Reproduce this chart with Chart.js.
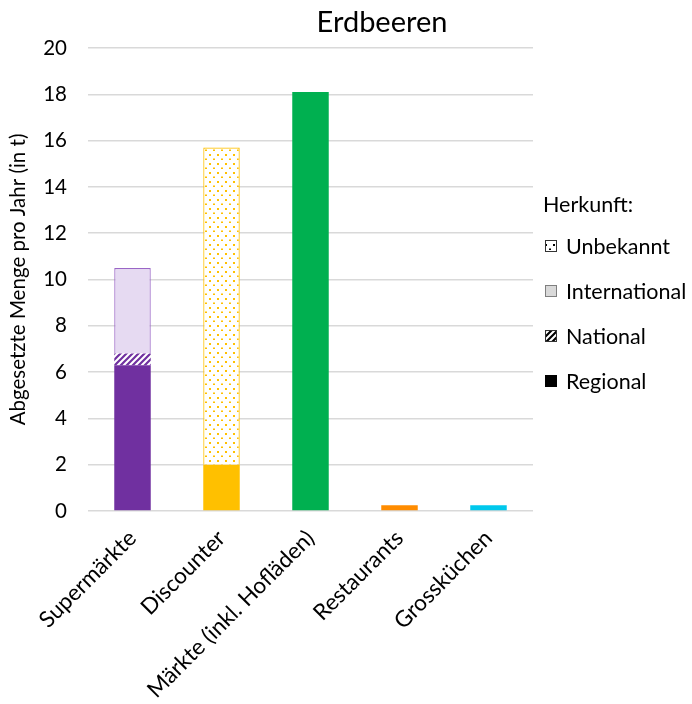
<!DOCTYPE html>
<html><head><meta charset="utf-8">
<script src="https://cdn.jsdelivr.net/npm/chart.js@4/dist/chart.umd.min.js"></script>
<style>html,body{margin:0;padding:0;background:#fff}#wrap{width:692px;height:704px}</style>
</head><body><div id="wrap"><canvas id="c" width="692" height="704"></canvas></div>
<script>
// ---- data ----
const categories = ['Supermärkte', 'Discounter', 'Märkte (inkl. Hofläden)', 'Restaurants', 'Grossküchen'];
const seriesNames = ['Regional', 'National', 'International', 'Unbekannt'];
const regional = [6.3, 2.0, 18.1, 0.25, 0.25];
const national = [0.5, null, null, null, null];
const international = [3.7, null, null, null, null];
const unbekannt = [null, 13.7, null, null, null];
const yMin = 0, yMax = 20, yStep = 2;
const chartTitle = 'Erdbeeren';
const yAxisTitle = 'Abgesetzte Menge pro Jahr (in t)';
const legendTitle = 'Herkunft:';

// ---- styles ----
const FONT = 'Lato, "Open Sans", sans-serif';
const baseColors = ['#7030A0', '#FFC000', '#00B050', '#FF8C00', '#00C8EC'];
const lightColors = ['#E6DAF2', '#FFF2CC', '#D5F2E0', '#FFE4CC', '#D0F4FB'];
const borderLight = ['#9A66C6', '#FFC000', '#00B050', '#FF8C00', '#00C8EC'];

function hatch(fg, bg) {
  const s = 6, c = document.createElement('canvas'); c.width = c.height = s;
  const x = c.getContext('2d');
  x.fillStyle = bg; x.fillRect(0, 0, s, s);
  x.strokeStyle = fg; x.lineWidth = 2.2; x.beginPath();
  for (let k = -1; k <= 1; k++) { x.moveTo(-1 + k * s, s + 1); x.lineTo(s + 1 + k * s, -1); }
  x.stroke();
  return x.createPattern(c, 'repeat');
}
function dots(fg, bg) {
  const w = 8, h = 9, c = document.createElement('canvas'); c.width = w; c.height = h;
  const x = c.getContext('2d');
  x.fillStyle = bg; x.fillRect(0, 0, w, h);
  x.fillStyle = fg;
  x.fillRect(1, 1, 2, 2);
  x.fillRect(5, 5.5, 2, 1.5);
  return x.createPattern(c, 'repeat');
}

const datasets = [
  { label: seriesNames[0], data: regional, backgroundColor: baseColors, borderColor: baseColors, borderWidth: 0 },
  { label: seriesNames[1], data: national, backgroundColor: baseColors.map(c => hatch(c, '#fff')), borderColor: baseColors, borderWidth: 0 },
  { label: seriesNames[2], data: international, backgroundColor: lightColors, borderColor: borderLight, borderWidth: 1.2 },
  { label: seriesNames[3], data: unbekannt, backgroundColor: baseColors.map(c => dots(c, '#fff')), borderColor: borderLight, borderWidth: 1.2 }
].map(d => Object.assign(d, { barPercentage: 0.41, categoryPercentage: 1.0, borderSkipped: 'start' }));

const legendFills = { Regional: '#000', National: hatch('#000', '#fff'), International: '#D9D9D9', Unbekannt: dots('#000', '#fff') };
const legendBorders = { Regional: '#000', National: '#333', International: '#7F7F7F', Unbekannt: '#333' };

const titlePlugin = {
  id: 'customTitle',
  afterDraw(chart) {
    const ctx = chart.ctx; ctx.save();
    ctx.font = '29px ' + FONT; ctx.fillStyle = '#000';
    ctx.textAlign = 'center'; ctx.textBaseline = 'alphabetic';
    ctx.fillText(chartTitle, 382, 32);
    ctx.restore();
  }
};
const legendPlugin = {
  id: 'customLegend',
  afterDraw(chart) {
    const ctx = chart.ctx; ctx.save();
    ctx.font = '21.5px ' + FONT; ctx.fillStyle = '#000'; ctx.textBaseline = 'middle'; ctx.textAlign = 'left';
    ctx.fillText(legendTitle, 543, 205);
    const items = chart.data.datasets.map(d => d.label).slice().reverse();
    items.forEach((name, i) => {
      const cy = 246 + i * 45;
      ctx.fillStyle = legendFills[name];
      ctx.fillRect(545, cy - 6, 12, 12);
      ctx.strokeStyle = legendBorders[name]; ctx.lineWidth = 1;
      ctx.strokeRect(545.5, cy - 5.5, 11, 11);
      ctx.fillStyle = '#000';
      ctx.fillText(name, 566, cy + 1);
    });
    ctx.restore();
  }
};

new Chart(document.getElementById('c'), {
  type: 'bar',
  data: { labels: categories, datasets },
  options: {
    responsive: false, animation: false, devicePixelRatio: 1,
    layout: { padding: { top: 48, right: 159, bottom: 0, left: 0 } },
    plugins: { legend: { display: false }, tooltip: { enabled: false }, title: { display: false } },
    scales: {
      x: {
        stacked: true,
        grid: { display: false, drawTicks: false },
        border: { display: false },
        ticks: { font: { family: FONT, size: 22.5 }, color: '#000', maxRotation: 45, minRotation: 45, padding: 14, autoSkip: false },
        afterFit(s) { s.height = 193; }
      },
      y: {
        stacked: true, min: yMin, max: yMax,
        grid: { color: '#D9D9D9', lineWidth: 1.5, drawTicks: false },
        border: { display: false },
        ticks: { stepSize: yStep, font: { family: FONT, size: 20.5 }, color: '#000', padding: 21 },
        title: { display: true, text: yAxisTitle, font: { family: FONT, size: 20.5 }, color: '#000', padding: { top: 6, bottom: 0 } },
        afterFit(s) { s.width = 88; }
      }
    }
  },
  plugins: [titlePlugin, legendPlugin]
});
</script></body></html>
